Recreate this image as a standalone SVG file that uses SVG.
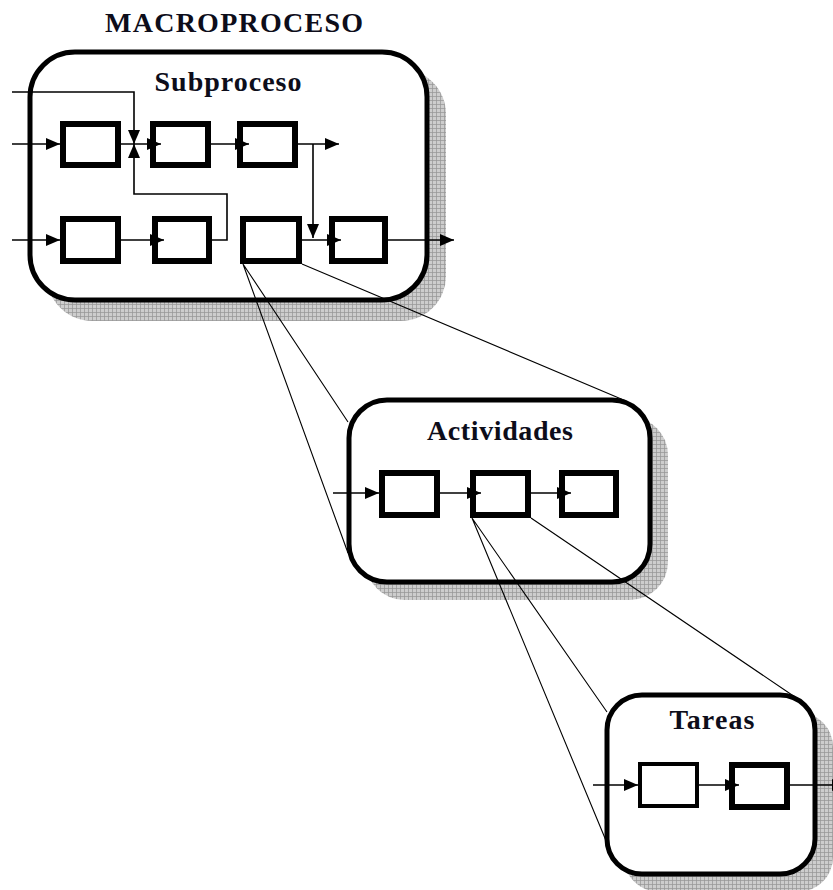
<svg xmlns="http://www.w3.org/2000/svg" width="833" height="890" viewBox="0 0 833 890">
<defs>
<pattern id="grid" width="4" height="4" patternUnits="userSpaceOnUse">
<rect width="4" height="4" fill="#cdcdcd"/>
<path d="M0,0.4 H4 M0.4,0 V4" stroke="#959595" stroke-width="0.8" fill="none"/>
</pattern>
<marker id="ah" markerUnits="userSpaceOnUse" markerWidth="14" markerHeight="12" refX="14" refY="6" orient="auto">
<path d="M0,0 L14,6 L0,12 z" fill="#000"/>
</marker>
</defs>
<style>
.shadow{fill:url(#grid);stroke:none}
.frame{fill:#fff;stroke:#000;stroke-width:5}
.box{fill:#fff;stroke:#000;stroke-width:6}
.ttl{font-family:"Liberation Serif","Times New Roman",serif;font-weight:bold;font-size:28px;fill:#0d0d1a;text-anchor:middle}
.flow{fill:none;stroke:#000;stroke-width:1.6}
.arr{marker-end:url(#ah)}
.zoom{fill:none;stroke:#000;stroke-width:1.1}
</style>
<rect width="833" height="890" fill="#fff"/>
<text id="title" class="ttl" x="234" y="32" textLength="258" lengthAdjust="spacing">MACROPROCESO</text>

<g id="subproceso">
<rect class="shadow" x="47" y="69" width="399" height="252" rx="45"/>
<rect class="frame" x="30" y="52" width="397" height="248" rx="45"/>
<text class="ttl" x="228" y="91" textLength="147" lengthAdjust="spacing">Subproceso</text>
<rect id="s1" class="box" x="63" y="124" width="55" height="41"/>
<rect id="s2" class="box" x="153" y="124" width="55" height="41"/>
<rect id="s3" class="box" x="240" y="124" width="55" height="41"/>
<rect id="s4" class="box" x="63" y="219" width="55" height="42"/>
<rect id="s5" class="box" x="155" y="219" width="54" height="42"/>
<rect id="s6" class="box" x="243" y="219" width="56" height="42"/>
<rect id="s7" class="box" x="332" y="219" width="53" height="42"/>
</g>

<g id="actividades">
<rect class="shadow" x="366" y="417" width="302" height="183" rx="38"/>
<rect class="frame" x="349" y="400" width="301" height="182" rx="38"/>
<text class="ttl" x="500" y="440" textLength="146" lengthAdjust="spacing">Actividades</text>
<rect id="a1" class="box" x="382" y="473" width="55" height="42"/>
<rect id="a2" class="box" x="473" y="473" width="55" height="42"/>
<rect id="a3" class="box" x="562" y="473" width="54" height="42"/>
</g>

<g id="tareas">
<rect class="shadow" x="624" y="712" width="209" height="180" rx="35"/>
<rect class="frame" x="607" y="695" width="208" height="179" rx="35"/>
<text class="ttl" x="712" y="729" textLength="85" lengthAdjust="spacing">Tareas</text>
<rect id="t1" class="box" x="640" y="764" width="57" height="42" style="stroke-width:4"/>
<rect id="t2" class="box" x="732" y="765" width="55" height="42"/>
</g>

<g id="connectors">
<path class="flow arr" d="M12,144 H60"/>
<path class="flow arr" d="M121,144 H161"/>
<path class="flow arr" d="M211,144 H249"/>
<path class="flow arr" d="M298,144 H339"/>
<path class="flow arr" d="M12,92 H134 V144"/>
<path class="flow arr" d="M212,240 H227 V194 H134 V144"/>
<path class="flow arr" d="M313,144 V238"/>
<path class="flow arr" d="M12,240 H60"/>
<path class="flow arr" d="M121,240 H164"/>
<path class="flow arr" d="M302,240 H341"/>
<path class="flow arr" d="M388,240 H454"/>
<path class="flow arr" d="M333,493 H379"/>
<path class="flow arr" d="M440,493 H481"/>
<path class="flow arr" d="M531,493 H571"/>
<path class="flow arr" d="M593,785 H638"/>
<path class="flow arr" d="M699,785 H739"/>
<path class="flow arr" d="M790,785 H846"/>
<path class="zoom" d="M243,264 L348,422 M243,264 L348,553 M302,264 L626,401"/>
<path class="zoom" d="M472,518 L607,712 M472,518 L607,843 M531,518 L795,697"/>
</g>
</svg>
